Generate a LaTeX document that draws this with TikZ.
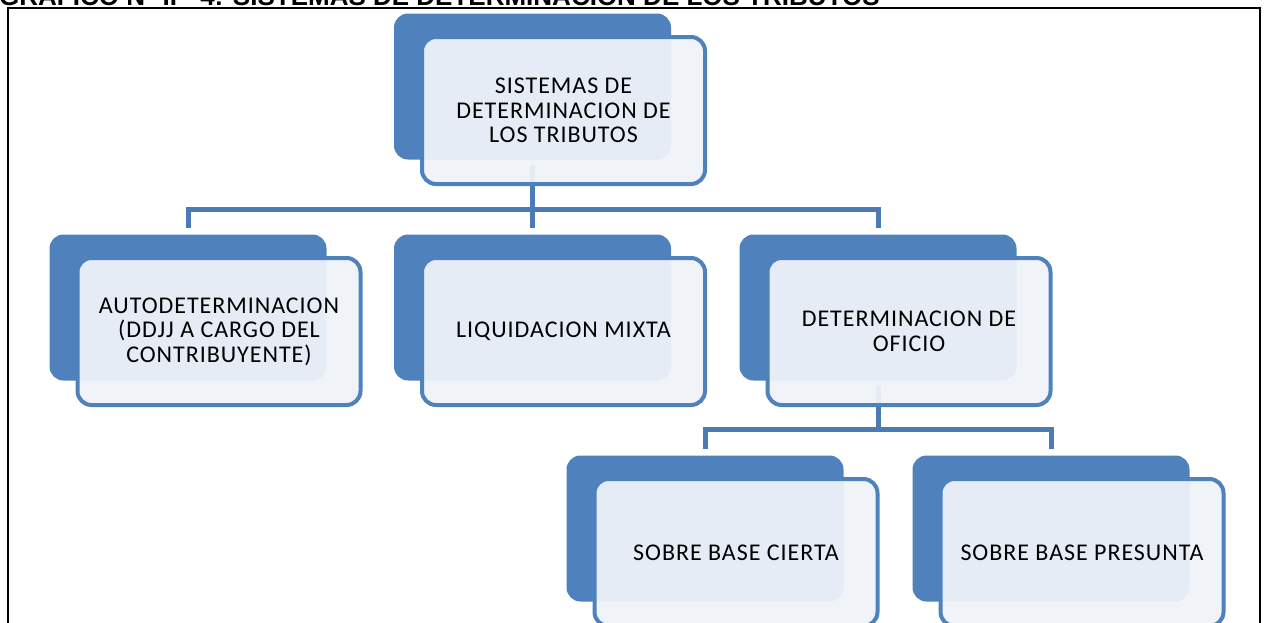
\documentclass[tikz,border=0pt]{standalone}
\usepackage{fontspec}
\setmainfont{Liberation Sans}
\newfontfamily\boxfont[LetterSpace=4]{Carlito}
\usetikzlibrary{positioning}
\definecolor{smartblue}{HTML}{4F81BD}
\definecolor{smartlink}{HTML}{4A7BB5}
\definecolor{smartpale}{HTML}{EFF3F9}

\begin{document}
\begin{tikzpicture}[x=1pt,y=-1pt]
        \tikzstyle{back}=[fill=smartblue, rounded corners=14pt, minimum width=277pt, minimum height=146pt, inner sep=0pt]
        \tikzstyle{front}=[draw=smartblue, line width=4pt, fill=smartpale, fill opacity=0.94, text opacity=1, rounded corners=14pt, minimum width=283pt, minimum height=147pt, inner sep=0pt, xshift=31pt, yshift=-24pt, align=center, text=black, font=\boxfont\fontsize{24}{24.5}\selectfont]
        \tikzstyle{link}=[draw=smartlink, line width=5pt, shorten <=5pt, shorten >=6pt]

        \useasboundingbox (0,0) rectangle (1267,622);
        \clip (0,0) rectangle (1267,622);

        \node[anchor=base west, inner sep=0pt, font=\bfseries\fontsize{26}{30}\selectfont] (title) at (-1,5) {GRAFICO N° II - 4: SISTEMAS DE DETERMINACION DE LOS TRIBUTOS};
        \draw[line width=2pt] (8,8) rectangle (1260,660);

        \node[back] (s0b) at (532.5,86.5) {};
        \node[back] (s1b) at (188,307.5) {};
        \node[back] (s2b) at (532.5,307.5) {};
        \node[back] (s3b) at (878,307.5) {};
        \node[back] (s4b) at (705,528.5) {};
        \node[back] (s5b) at (1051,528.5) {};

        \coordinate (j0) at (s0b.south |- 0,209);
        \coordinate (j3) at (s3b.south |- 0,429);

        \draw[link] (s0b.south) -- (j0) -| (s1b.north);
        \draw[link] (s0b.south) -- (j0) -| (s2b.north);
        \draw[link] (s0b.south) -- (j0) -| (s3b.north);
        \draw[link] (s3b.south) -- (j3) -| (s4b.north);
        \draw[link] (s3b.south) -- (j3) -| (s5b.north);

        \node[front] (s0) at (s0b) {SISTEMAS DE\\DETERMINACION DE\\LOS TRIBUTOS};
        \node[front] (s1) at (s1b) {AUTODETERMINACION\\(DDJJ A CARGO DEL\\CONTRIBUYENTE)};
        \node[front] (s2) at (s2b) {LIQUIDACION MIXTA};
        \node[front] (s3) at (s3b) {DETERMINACION DE\\OFICIO};
        \node[front] (s4) at (s4b) {SOBRE BASE CIERTA};
        \node[front] (s5) at (s5b) {SOBRE BASE PRESUNTA};

    \end{tikzpicture}
\end{document}
